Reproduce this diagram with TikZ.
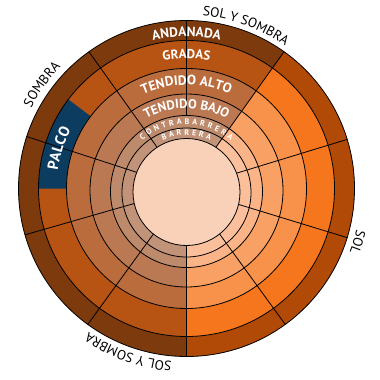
\documentclass[tikz,border=0pt]{standalone}
\usepackage{fontspec}
\setmainfont{PT Sans}
\usetikzlibrary{decorations.text}

\definecolor{andanadaSombra}{HTML}{7D3A0C}
\definecolor{andanadaSol}{HTML}{B04A06}
\definecolor{gradasSombra}{HTML}{B75414}
\definecolor{gradasSol}{HTML}{F6761E}
\definecolor{altoSombra}{HTML}{BB6C3C}
\definecolor{altoSol}{HTML}{F8924A}
\definecolor{bajoSombra}{HTML}{BA7853}
\definecolor{bajoSol}{HTML}{F9A064}
\definecolor{contraSombra}{HTML}{BE8A6C}
\definecolor{contraSol}{HTML}{FAB487}
\definecolor{barreraSombra}{HTML}{C19378}
\definecolor{barreraSol}{HTML}{FBC09B}
\definecolor{arena}{HTML}{F9D0B8}
\definecolor{palco}{HTML}{0C3C60}

% one ring: centre y, radius, sombra colour, sol colour
\newcommand{\Ring}[4]{%
  \begin{scope}
    \clip (0pt,#1pt) circle[radius=#2pt];
    \fill[#3] (0pt,#1pt) circle[radius=#2pt];
    \fill[#4] (0pt,0pt) -- (-90:200pt) arc[start angle=-90, end angle=54.5, radius=200pt] -- cycle;
  \end{scope}}
% white name of a ring, centred on top: centre y, radius, size, text
\newcommand{\RingLabel}[4]{%
  \path[shift={(0pt,#1pt)}, decorate, decoration={text along path, text align=center, text color=white,
      text={|\bfseries\fontsize{#3}{#3}\selectfont|#4}}]
    (140:#2pt) arc[start angle=140, end angle=40, radius=#2pt];}
% spaced small name: centre y, radius, spacing, text
\newcommand{\SpacedLabel}[4]{%
  \path[shift={(0pt,#1pt)}, font=\bfseries\fontsize{8}{8}\selectfont, decorate,
      decoration={text effects along path, text={#4}, text align=center,
      text effects/.cd, text along path,
      characters={text=white, font=\bfseries\fontsize{8}{8}\selectfont},
      character widths={font=\bfseries\fontsize{8}{8}\selectfont, inner xsep=#3pt}}]
    (160:#2pt) arc[start angle=160, end angle=20, radius=#2pt];}
% black name outside: middle angle, radius, text
\newcommand{\OuterLabel}[3]{%
  \path[decorate, decoration={text along path, text align=center,
      text={|\fontsize{13.5}{14}\selectfont|#3}}]
    (#1+35:#2pt) arc[start angle=#1+35, end angle=#1-35, radius=#2pt];}

\begin{document}
\begin{tikzpicture}[line width=0.8pt]
  \useasboundingbox (-186.5pt,-191.5pt) rectangle (193.5pt,188.5pt);

  \Ring{0}{168}{andanadaSombra}{andanadaSol}
  \Ring{0}{148}{gradasSombra}{gradasSol}
  \begin{scope}
    \clip (0pt,0pt) circle[radius=148pt];
    \fill[palco] (0pt,0pt) -- (143:150pt) arc[start angle=143, end angle=180, radius=150pt] -- cycle;
  \end{scope}
  \Ring{0}{120}{altoSombra}{altoSol}
  \Ring{-2}{96.5}{bajoSombra}{bajoSol}
  \Ring{-3}{76}{contraSombra}{contraSol}
  \Ring{-4}{64.5}{barreraSombra}{barreraSol}

  % sectors
  \foreach \a in {17,-17,54.5,-54,-90,125.5,162,196,234}
    \draw (\a:45pt) -- (\a:168pt);
  \draw (0pt,73pt) -- (0pt,168pt);

  \fill[arena] (0pt,-3.5pt) circle[radius=53.5pt];
  \foreach \cy/\rr in {0/168,0/148,0/120,-2/96.5,-3/76,-4/64.5,-3.5/53.5}
    \draw (0pt,\cy pt) circle[radius=\rr pt];

  \RingLabel{0}{152}{13.5}{ANDANADA}
  \RingLabel{0}{130}{13}{GRADAS}
  \RingLabel{-3}{106.5}{13.5}{TENDIDO ALTO}
  \RingLabel{-3}{83.2}{13}{TENDIDO BAJO}
  \SpacedLabel{-4}{68.3}{1.4}{CONTRABARRERA}
  \SpacedLabel{-4}{57.3}{1.3}{BARRERA}

  \path[decorate, decoration={text along path, text align=center, text color=white,
      text={|\bfseries\fontsize{15}{15}\selectfont|PALCO}}]
    (192.5:130pt) arc[start angle=192.5, end angle=132.5, radius=130pt];

  \OuterLabel{144.3}{175}{SOMBRA}
  \OuterLabel{70}{173.5}{SOL Y SOMBRA}
  \OuterLabel{-17.3}{175}{SOL}
  \OuterLabel{250.5}{174}{SOL Y SOMBRA}
\end{tikzpicture}
\end{document}
